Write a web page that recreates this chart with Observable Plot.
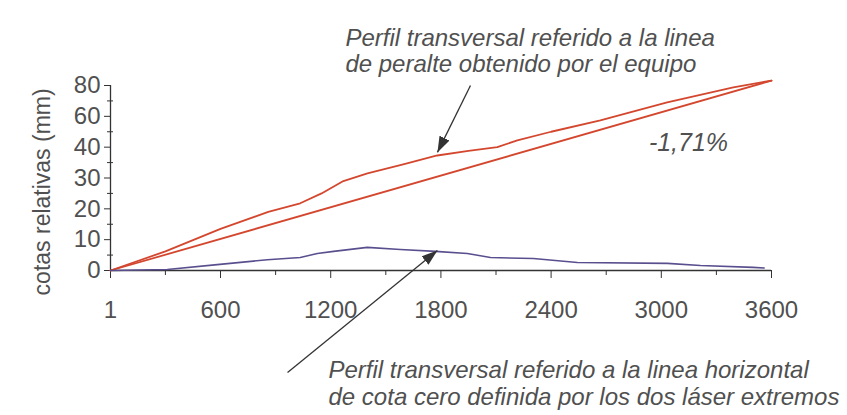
<!DOCTYPE html>
<html>
<head>
<meta charset="utf-8">
<script src="https://cdn.jsdelivr.net/npm/d3@7"></script>
<script src="https://cdn.jsdelivr.net/npm/@observablehq/plot@0.6"></script>
<style>
  html, body { margin: 0; padding: 0; background: #fff; }
</style>
</head>
<body>
<div id="chart"></div>
<script>
// ---- data ----
// x: position across the profile (mm), y: relative heights (mm)
const perfilX = [1, 300, 600, 860, 1034, 1150, 1269, 1400, 1600, 1780, 1950, 2107, 2216, 2400, 2668, 3032, 3392, 3600];
const perfilY = [0, 6.2, 13.5, 19.0, 21.8, 25.0, 29.0, 31.5, 34.5, 37.3, 38.8, 40.0, 42.2, 45.0, 48.7, 54.5, 59.4, 61.6];

const peralteX = [1, 3600];
const peralteY = [0, 61.6];

const horizX = [1, 310, 582, 855, 1034, 1127, 1216, 1399, 1579, 1770, 1944, 2070, 2303, 2543, 3033, 3213, 3500, 3560];
const horizY = [0, 0.3, 1.9, 3.5, 4.2, 5.5, 6.2, 7.5, 6.8, 6.2, 5.5, 4.2, 3.9, 2.6, 2.3, 1.6, 1.0, 0.8];

const xTicks = [1, 600, 1200, 1800, 2400, 3000, 3600];
const xMinor = [300, 900, 1500, 2100, 2700, 3300];
const yTicks = [0, 10, 20, 30, 40, 50, 60];
const yTickLabels = ["0", "10", "20", "30", "40", "60", "80"];
const yMinor = [5, 15, 25, 35, 45, 55];

const slopeLabel = "-1,71%";
const yLabel = "cotas relativas (mm)";
const noteTop = ["Perfil transversal referido a la linea", "de peralte obtenido por el equipo"];
const noteBottom = ["Perfil transversal referido a la linea horizontal", "de cota cero definida por los dos láser extremos"];

// ---- build tables ----
const perfil = perfilX.map((x, i) => ({x, y: perfilY[i]}));
const peralte = peralteX.map((x, i) => ({x, y: peralteY[i]}));
const horiz = horizX.map((x, i) => ({x, y: horizY[i]}));

const red = "#d4472f";
const blue = "#5a4f8e";
const ink = "#333";
const grey = "#505050";
const font = "'Liberation Sans', Arial, Helvetica, sans-serif";

function filledArrow(color) {
  const ns = "http://www.w3.org/2000/svg";
  const m = document.createElementNS(ns, "marker");
  m.setAttribute("viewBox", "-16 -6 16 12");
  m.setAttribute("markerWidth", 16);
  m.setAttribute("markerHeight", 12);
  m.setAttribute("markerUnits", "userSpaceOnUse");
  m.setAttribute("orient", "auto");
  const p = document.createElementNS(ns, "path");
  p.setAttribute("d", "M-16,-5.5L0,0L-16,5.5Z");
  p.setAttribute("fill", color);
  p.setAttribute("stroke", "none");
  m.appendChild(p);
  return m;
}

const chart = Plot.plot({
  width: 847,
  height: 415,
  marginLeft: 110,
  marginRight: 76,
  marginTop: 85,
  marginBottom: 145,
  style: {fontFamily: font, background: "#fff", color: grey, overflow: "visible"},
  x: {domain: [1, 3600]},
  y: {domain: [0, 60]},
  marks: [
    // axes lines
    Plot.ruleY([0], {stroke: ink, strokeWidth: 1.3}),
    Plot.ruleX([1], {stroke: ink, strokeWidth: 1.3}),
    // x axis
    Plot.axisX({ticks: xTicks, tickSize: 8, tickPadding: 22, fontSize: 24, label: null, stroke: ink, tickFormat: d => String(d)}),
    Plot.axisX({ticks: xMinor, tickSize: 5, label: null, stroke: ink, tickFormat: () => ""}),
    // y axis
    Plot.axisY({ticks: yTicks, tickSize: 6, tickPadding: 4, fontSize: 24, label: null, stroke: ink,
                tickFormat: d => yTickLabels[yTicks.indexOf(d)]}),
    Plot.axisY({ticks: yMinor, tickSize: 6, dx: 3, label: null, stroke: ink, tickFormat: () => ""}),
    // series
    Plot.line(peralte, {x: "x", y: "y", stroke: red, strokeWidth: 1.8}),
    Plot.line(perfil, {x: "x", y: "y", stroke: red, strokeWidth: 1.8}),
    Plot.line(horiz, {x: "x", y: "y", stroke: blue, strokeWidth: 1.6}),
    // y label (placed in data units, left of the axis)
    Plot.text([yLabel], {x: -370, y: 25.5, text: d => d, rotate: -90, fontSize: 23, fill: grey}),
    // annotations
    Plot.text([noteTop[0]], {x: 1280, y: 75.2, text: d => d, textAnchor: "start", fontSize: 24, fontStyle: "italic", fill: grey}),
    Plot.text([noteTop[1]], {x: 1280, y: 67.0, text: d => d, textAnchor: "start", fontSize: 24, fontStyle: "italic", fill: grey}),
    Plot.text([slopeLabel], {x: 3148, y: 41.5, text: d => d, fontSize: 25, fontStyle: "italic", fill: grey}),
    Plot.text([noteBottom[0]], {x: 1188, y: -32.4, text: d => d, textAnchor: "start", fontSize: 24, fontStyle: "italic", fill: grey}),
    Plot.text([noteBottom[1]], {x: 1188, y: -41.2, text: d => d, textAnchor: "start", fontSize: 24, fontStyle: "italic", fill: grey}),
    Plot.link([{x1: 1961, y1: 60.0, x2: 1781, y2: 38.3}], {x1: "x1", y1: "y1", x2: "x2", y2: "y2", stroke: ink, strokeWidth: 1.3, markerEnd: filledArrow}),
    Plot.link([{x1: 965, y1: -33.1, x2: 1781, y2: 6.5}], {x1: "x1", y1: "y1", x2: "x2", y2: "y2", stroke: ink, strokeWidth: 1.3, markerEnd: filledArrow})
  ]
});
document.getElementById("chart").appendChild(chart);
</script>
</body>
</html>
